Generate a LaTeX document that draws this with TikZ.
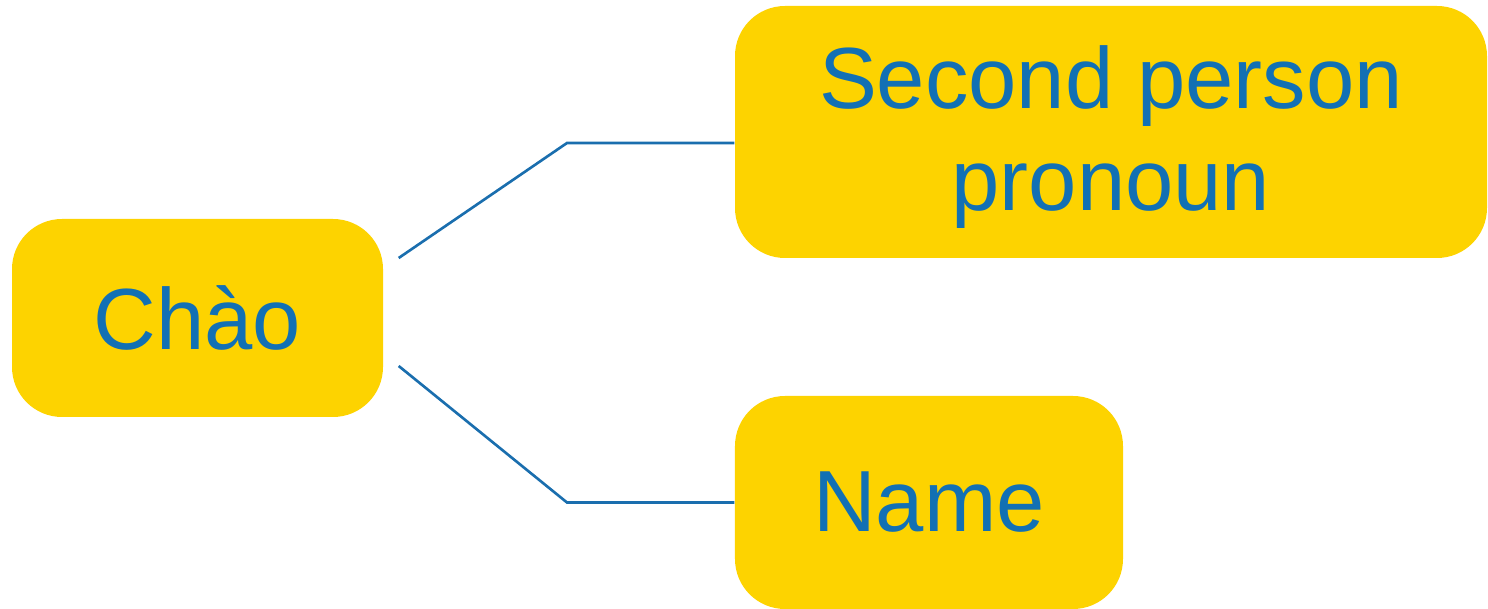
\documentclass[tikz,border=0pt]{standalone}
\usepackage{fontspec}
\setmainfont{Liberation Sans}
\usepackage{xcolor}
\definecolor{boxyellow}{HTML}{FDD300}
\definecolor{textblue}{HTML}{1270B4}
\definecolor{lineblue}{HTML}{1A6EAE}

\begin{document}
\begin{tikzpicture}[
    topic/.style={fill=boxyellow,rounded corners=.5cm,text=textblue,align=center,inner sep=0pt,
        font=\fontsize{24.7}{29}\selectfont},
    branch/.style={draw=lineblue,line width=.75pt}
    ]
        \useasboundingbox (0,0) rectangle (14.88,6.09);
        \node[topic,minimum width=3.71cm,minimum height=1.98cm] (chao) at (1.975,2.91) {Chào};
        \node[topic,minimum width=7.52cm,minimum height=2.52cm,text depth=.08cm] (pronoun) at (11.11,4.77) {Second person\\pronoun};
        \node[topic,minimum width=3.88cm,minimum height=2.13cm] (name) at (9.29,1.065) {Name};
        \coordinate (up) at (5.67,4.66);
        \coordinate (down) at (5.67,1.065);
        \draw[branch] ([xshift=.15cm,yshift=.6cm]chao.east) -- (up) -- (pronoun.west |- up);
        \draw[branch] ([xshift=.15cm,yshift=-.48cm]chao.east) -- (down) -- (name.west);
    \end{tikzpicture}
\end{document}
